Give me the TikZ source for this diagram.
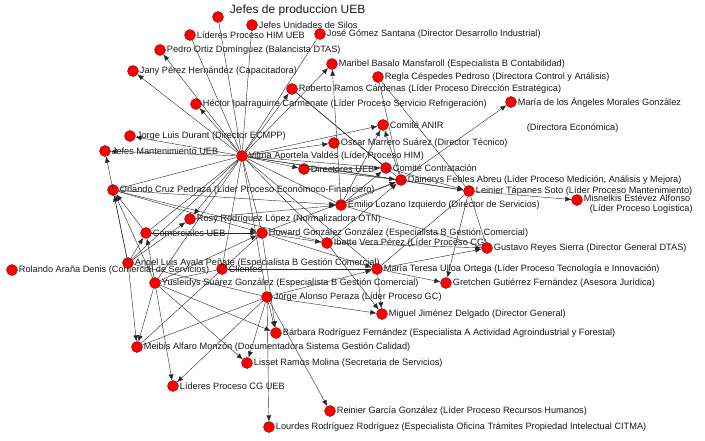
\documentclass[tikz,border=0pt]{standalone}
\usepackage{fontspec}
\setmainfont{Liberation Sans}
\usetikzlibrary{arrows.meta}

\begin{document}
\begin{tikzpicture}[
  x=1pt, y=-1pt,
  actor/.style={circle, draw=red!55!black, fill=red, line width=0.4pt,
                minimum size=11pt, inner sep=0pt, label distance=0.5pt},
  every label/.style={font=\fontsize{9.2}{10.5}\selectfont, text=black!90, inner sep=1pt},
  arr/.style={-{Latex[length=6pt,width=5pt]}, line width=0.4pt, black!85},
  lnk/.style={line width=0.4pt, black!85},
]
\useasboundingbox (0,0) rectangle (705,440);

% people and groups
\node[actor, label={[font=\fontsize{12}{14}\selectfont, xshift=5pt, yshift=7pt]right:Jefes de produccion UEB}] (jpu) at (218,17) {};
\node[actor, label={right:Jefes Unidades de Silos}] (jus) at (252,25) {};
\node[actor, label={right:Líderes Proceso HIM UEB}] (lhim) at (190,35) {};
\node[actor, label={right:José Gómez Santana (Director Desarrollo Industrial)}] (jose) at (320,34) {};
\node[actor, label={right:Pedro Ortiz Domínguez (Balancista DTAS)}] (pedro) at (160,50) {};
\node[actor, label={right:Jany Pérez Hernández (Capacitadora)}] (jany) at (133,71) {};
\node[actor, label={right:Maribel Basalo Mansfaroll (Especialista B Contabilidad)}] (maribel) at (332,64) {};
\node[actor, label={right:Regla Céspedes Pedroso (Directora Control y Análisis)}] (regla) at (378,77) {};
\node[actor, label={right:Roberto Ramos Cárdenas (Líder Proceso Dirección Estratégica)}] (roberto) at (292,89) {};
\node[actor, label={right:Héctor Iparraguirre Carmenate (Líder Proceso Servicio Refrigeración)}] (hector) at (196,104) {};
\node[actor, label={[align=left, yshift=-13pt]right:María de los Ángeles Morales González\\[14pt]\hspace*{9pt}(Directora Económica)}] (mangeles) at (511,102) {};
\node[actor, label={right:Comité ANIR}] (anir) at (383,125) {};
\node[actor, label={right:Jorge Luis Durant (Director ECMPP)}] (durant) at (130,136) {};
\node[actor, label={right:Oscar Marrero Suárez (Director Técnico)}] (oscar) at (334,143) {};
\node[actor, label={right:Jefes Mantenimiento UEB}] (jmant) at (105,151) {};
\node[actor, label={right:Vilma Aportela Valdés (Líder Proceso HIM)}] (vilma) at (242,156) {};
\node[actor, label={right:Directores UEB}] (dueb) at (304,169) {};
\node[actor, label={right:Comité Contratación}] (ccont) at (386,168) {};
\node[actor, label={right:Dainerys Febles Abreu (Líder Proceso Medición, Análisis y Mejora)}] (dainerys) at (401,180) {};
\node[actor, label={right:Leinier Tápanes Soto (Líder Proceso Mantenimiento)}] (leinier) at (469,191) {};
\node[actor, label={[align=left, yshift=-4pt]right:Misnelkis Estévez Alfonso\\\hspace*{6pt}(Líder Proceso Logística)}] (misnel) at (577,200) {};
\node[actor, label={right:Orlando Cruz Pedraza (Líder Proceso Económoco-Financiero)}] (orlando) at (113,190) {};
\node[actor, label={right:Emilio Lozano Izquierdo (Director de Servicios)}] (emilio) at (341,205) {};
\node[actor, label={right:Rosy Rodríguez López (Normalizadora OTN)}] (rosy) at (190,219) {};
\node[actor, label={right:Comerciales UEB}] (comueb) at (146,233) {};
\node[actor, label={right:Howard González González (Especialista B Gestión Comercial)}] (howard) at (262,233) {};
\node[actor, label={right:Ibette Vera Pérez (Líder Proceso CG)}] (ibette) at (327,243) {};
\node[actor, label={right:Gustavo Reyes Sierra (Director General DTAS)}] (gustavo) at (487,248) {};
\node[actor, label={right:Clientes}] (clientes) at (222,269) {};
\node[actor, label={right:Rolando Araña Denis (Comercial de Servicios)}] (rolando) at (12,270) {};
\node[actor, label={right:Angel Luis Ayala Peñate (Especialista B Gestión Comercial)}] (angel) at (128,263) {};
\node[actor, label={right:María Teresa Ulloa Ortega (Líder Proceso Tecnología e Innovación)}] (mteresa) at (377,269) {};
\node[actor, label={right:Yusleidys Suárez González (Especialista B Gestión Comercial)}] (yusle) at (155,283) {};
\node[actor, label={right:Gretchen Gutiérrez Fernández (Asesora Jurídica)}] (gretchen) at (446,283) {};
\node[actor, label={right:Jorge Alonso Peraza (Líder Proceso GC)}] (jalonso) at (267,297) {};
\node[actor, label={right:Miguel Jiménez Delgado (Director General)}] (miguel) at (382,314) {};
\node[actor, label={right:Bárbara Rodríguez Fernández (Especialista A Actividad Agroindustrial y Forestal)}] (barbara) at (276,333) {};
\node[actor, label={right:Meibis Alfaro Monzón (Documentadora Sistema Gestión Calidad)}] (meibis) at (137,347) {};
\node[actor, label={right:Lisset Ramos Molina (Secretaria de Servicios)}] (lisset) at (247,363) {};
\node[actor, label={right:Líderes Proceso CG UEB}] (lcgueb) at (173,386) {};
\node[actor, label={right:Reinier García González (Líder Proceso Recursos Humanos)}] (reinier) at (330,411) {};
\node[actor, label={right:Lourdes Rodríguez Rodríguez (Especialista Oficina Trámites Propiedad Intelectual CITMA)}] (lourdes) at (269,427) {};

% Vilma's spokes
\draw[arr] (vilma) -- (jany);
\draw[arr] (vilma) -- (pedro);
\draw[arr] (vilma) -- (hector);
\draw[arr] (vilma) -- (roberto);
\draw[arr] (vilma) -- (maribel);
\draw[arr] (vilma) -- (anir);
\draw[arr] (vilma) -- (oscar);
\draw[arr] (vilma) -- (dueb);
\draw[arr] (vilma) -- (durant);
\draw[arr] (vilma) -- (jmant);
\draw[arr] (vilma) -- (rosy);
\draw[lnk] (vilma) -- (lhim);
\draw[lnk] (vilma) -- (jpu);
\draw[lnk] (vilma) -- (jus);
\draw[lnk] (vilma) -- (jose);
\draw[lnk] (vilma) -- (orlando);
\draw[lnk] (vilma) -- (comueb);
\draw[lnk] (vilma) -- (howard);
\draw[lnk] (vilma) -- (emilio);
\draw[lnk] (vilma) -- (ibette);
\draw[lnk] (vilma) -- (jalonso);
\draw[lnk] (vilma) -- (clientes);
\draw[lnk] (vilma) -- (angel);
\draw[lnk] (vilma) -- (yusle);
\draw[lnk] (vilma) -- (ccont);
\draw[lnk] (vilma) -- (dainerys);
\draw[lnk] (vilma) -- (mteresa);
\draw[lnk] (vilma) -- (leinier);

% upper right cluster
\draw[arr] (dainerys) -- (mangeles);
\draw[arr] (dainerys) -- (leinier);
\draw[arr] (leinier) -- (misnel);
\draw[lnk] (regla) -- (leinier);
\draw[lnk] (regla) -- (dainerys);
\draw[lnk] (roberto) -- (dainerys);
\draw[lnk] (roberto) -- (ccont);
\draw[arr] (emilio) -- (maribel);
\draw[arr] (dueb) -- (ccont);
\draw[arr] (emilio) -- (ccont);
\draw[arr] (emilio) -- (dainerys);
\draw[arr] (howard) -- (dainerys);
\draw[arr] (ibette) -- (dainerys);
\draw[arr] (dueb) -- (dainerys);
\draw[arr] (emilio) -- (anir);
\draw[arr] (dainerys) -- (anir);
\draw[arr] (ccont) -- (leinier);

% middle
\draw[arr] (orlando) -- (emilio);
\draw[arr] (rosy) -- (emilio);
\draw[arr] (angel) -- (jmant);
\draw[arr] (angel) -- (orlando);
\draw[arr] (yusle) -- (orlando);
\draw[arr] (comueb) -- (orlando);
\draw[arr] (angel) -- (comueb);
\draw[arr] (yusle) -- (comueb);
\draw[arr] (yusle) -- (howard);
\draw[arr] (orlando) -- (howard);
\draw[arr] (comueb) -- (howard);
\draw[arr] (angel) -- (rosy);
\draw[arr] (howard) -- (ibette);
\draw[arr] (ibette) -- (gustavo);
\draw[arr] (mteresa) -- (gustavo);
\draw[arr] (howard) -- (mteresa);
\draw[arr] (jalonso) -- (mteresa);
\draw[lnk] (leinier) -- (gustavo);
\draw[lnk] (emilio) -- (gustavo);
\draw[lnk] (leinier) -- (mteresa);
\draw[arr] (mteresa) -- (gretchen);
\draw[arr] (leinier) -- (gretchen);
\draw[lnk] (clientes) -- (yusle);
\draw[lnk] (clientes) -- (mteresa);
\draw[lnk] (orlando) -- (ibette);

% lower part
\draw[arr] (jalonso) -- (miguel);
\draw[arr] (ibette) -- (miguel);
\draw[arr] (mteresa) -- (miguel);
\draw[arr] (jalonso) -- (barbara);
\draw[arr] (howard) -- (barbara);
\draw[arr] (yusle) -- (barbara);
\draw[arr] (yusle) -- (lisset);
\draw[arr] (jalonso) -- (lisset);
\draw[arr] (jalonso) -- (reinier);
\draw[arr] (jalonso) -- (lourdes);
\draw[arr] (jalonso) -- (lcgueb);
\draw[arr] (yusle) -- (lcgueb);
\draw[arr] (angel) -- (meibis);
\draw[arr] (yusle) -- (meibis);
\draw[lnk] (meibis) -- (jalonso);
\draw[lnk] (meibis) -- (howard);
\draw[lnk] (angel) -- (jalonso);

\end{tikzpicture}
\end{document}
